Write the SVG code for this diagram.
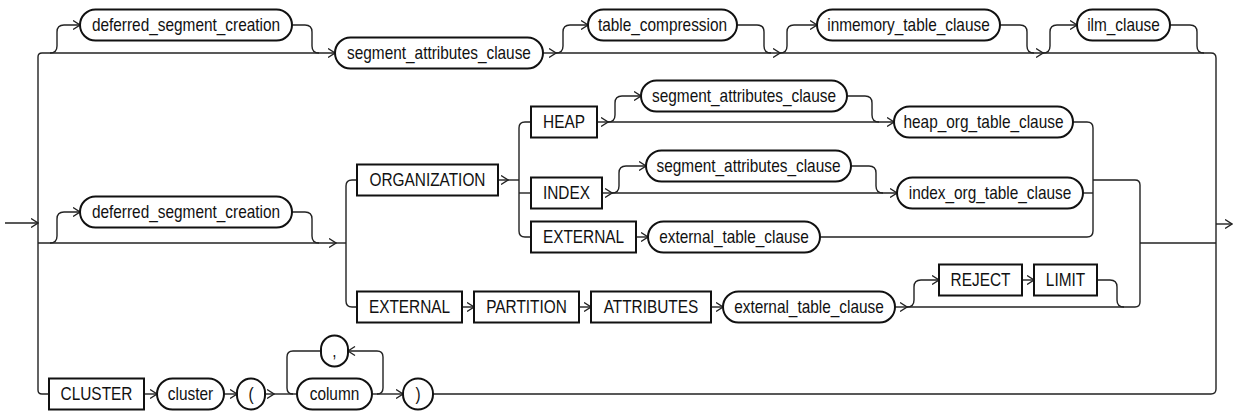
<svg xmlns="http://www.w3.org/2000/svg" width="1233" height="411" viewBox="0 0 1233 411">
<style>
.n rect{fill:#fff;stroke:#111;stroke-width:2}
.n text{font-family:"Liberation Sans",Arial,sans-serif;font-size:17.5px;fill:#111;text-anchor:middle;transform-box:fill-box;transform-origin:center;transform:scaleX(0.88)}
#conn path{fill:none;stroke:#222;stroke-width:1.4}
</style>
<defs>
<marker id="ah" viewBox="0 0 8 10" refX="7.5" refY="5" markerWidth="8" markerHeight="10" orient="auto" markerUnits="userSpaceOnUse">
<path d="M0.5,0.5 L7.5,5 L0.5,9.5" fill="none" stroke="#222" stroke-width="1.3"/>
</marker>
</defs>
<rect width="1233" height="411" fill="#fff"/>
<g id="conn">
<path d="M5,223 H38" marker-end="url(#ah)"/>
<path d="M1216,224 H1232" marker-end="url(#ah)"/>
<path d="M42,53 Q38,53 38,57 V390 Q38,394 42,394 H49"/>
<path d="M1204,53 H1211 Q1216,53 1216,58 V389 Q1216,394 1211,394 H433"/>
<path d="M42,53 H335" marker-end="url(#ah)"/>
<path d="M50,53 Q57,53 57,46 V32 Q57,25 64,25 H80" marker-end="url(#ah)"/>
<path d="M292,25 H305 Q312,25 312,32 V46 Q312,53 319,53"/>
<path d="M543,53 H556" marker-end="url(#ah)"/>
<path d="M556,53 H780" marker-end="url(#ah)"/>
<path d="M780,53 H1043" marker-end="url(#ah)"/>
<path d="M1043,53 H1204"/>
<path d="M556,53 Q563,53 563,46 V32 Q563,25 570,25 H588" marker-end="url(#ah)"/>
<path d="M737,25 H757 Q764,25 764,32 V46 Q764,53 771,53"/>
<path d="M780,53 Q787,53 787,46 V32 Q787,25 794,25 H817" marker-end="url(#ah)"/>
<path d="M1000,25 H1020 Q1027,25 1027,32 V46 Q1027,53 1034,53"/>
<path d="M1043,53 Q1050,53 1050,46 V32 Q1050,25 1057,25 H1077" marker-end="url(#ah)"/>
<path d="M1170,25 H1190 Q1197,25 1197,32 V46 Q1197,53 1204,53"/>
<path d="M38,243 H336" marker-end="url(#ah)"/>
<path d="M336,243 H346"/>
<path d="M50,243 Q57,243 57,236 V219 Q57,212 64,212 H80" marker-end="url(#ah)"/>
<path d="M292,212 H305 Q312,212 312,219 V236 Q312,243 319,243"/>
<path d="M357,180 H352 Q346,180 346,186 V301 Q346,307 352,307 H357"/>
<path d="M498,180 H508" marker-end="url(#ah)"/>
<path d="M508,180 H519"/>
<path d="M531,122 H525 Q519,122 519,128 V231 Q519,237 525,237 H531"/>
<path d="M519,193 H531"/>
<path d="M597,122 H608" marker-end="url(#ah)"/>
<path d="M608,122 H894" marker-end="url(#ah)"/>
<path d="M608,122 Q615,122 615,115 V103 Q615,96 622,96 H641" marker-end="url(#ah)"/>
<path d="M847,96 H865 Q872,96 872,103 V115 Q872,122 879,122"/>
<path d="M1073,122 H1087 Q1093,122 1093,128 V231 Q1093,237 1087,237 H820"/>
<path d="M602,193 H612" marker-end="url(#ah)"/>
<path d="M612,193 H897" marker-end="url(#ah)"/>
<path d="M612,193 Q619,193 619,186 V173 Q619,166 626,166 H646" marker-end="url(#ah)"/>
<path d="M851,166 H869 Q876,166 876,173 V186 Q876,193 883,193"/>
<path d="M1083,193 H1093"/>
<path d="M636,237 H648" marker-end="url(#ah)"/>
<path d="M1093,180 H1135 Q1140,180 1140,185 V302 Q1140,307 1135,307"/>
<path d="M1140,243 H1216"/>
<path d="M462,307 H474" marker-end="url(#ah)"/>
<path d="M579,307 H591" marker-end="url(#ah)"/>
<path d="M711,307 H723" marker-end="url(#ah)"/>
<path d="M895,307 H907" marker-end="url(#ah)"/>
<path d="M907,307 H1135"/>
<path d="M907,307 Q914,307 914,300 V287 Q914,280 921,280 H939" marker-end="url(#ah)"/>
<path d="M1022,280 H1034" marker-end="url(#ah)"/>
<path d="M1097,280 H1110 Q1117,280 1117,287 V300 Q1117,307 1124,307"/>
<path d="M144,394 H157" marker-end="url(#ah)"/>
<path d="M224,394 H237" marker-end="url(#ah)"/>
<path d="M265,394 H274" marker-end="url(#ah)"/>
<path d="M274,394 H297"/>
<path d="M372,394 H403" marker-end="url(#ah)"/>
<path d="M377,394 Q383,394 383,388 V357 Q383,351 377,351 H348" marker-end="url(#ah)"/>
<path d="M321,351 H293 Q287,351 287,357 V388 Q287,394 293,394"/>
</g>
<g id="n-dsc1" class="n"><rect x="80" y="9.5" width="212" height="31" rx="15.5"/><text x="186" y="31">deferred_segment_creation</text></g>
<g id="n-sac1" class="n"><rect x="335" y="37.5" width="208" height="31" rx="15.5"/><text x="439" y="59">segment_attributes_clause</text></g>
<g id="n-tc" class="n"><rect x="588" y="9.5" width="149" height="31" rx="15.5"/><text x="662.5" y="31">table_compression</text></g>
<g id="n-itc" class="n"><rect x="817" y="9.5" width="183" height="31" rx="15.5"/><text x="908.5" y="31">inmemory_table_clause</text></g>
<g id="n-ilm" class="n"><rect x="1077" y="9.5" width="93" height="31" rx="15.5"/><text x="1123.5" y="31">ilm_clause</text></g>
<g id="n-dsc2" class="n"><rect x="80" y="196.5" width="212" height="31" rx="15.5"/><text x="186" y="218">deferred_segment_creation</text></g>
<g id="n-org" class="n"><rect x="357" y="164.5" width="141" height="31"/><text x="427.5" y="186">ORGANIZATION</text></g>
<g id="n-heap" class="n"><rect x="531" y="106.5" width="66" height="31"/><text x="564" y="128">HEAP</text></g>
<g id="n-sac2" class="n"><rect x="641" y="80.5" width="206" height="31" rx="15.5"/><text x="744" y="102">segment_attributes_clause</text></g>
<g id="n-hotc" class="n"><rect x="894" y="106.5" width="179" height="31" rx="15.5"/><text x="983.5" y="128">heap_org_table_clause</text></g>
<g id="n-index" class="n"><rect x="531" y="177.5" width="71" height="31"/><text x="566.5" y="199">INDEX</text></g>
<g id="n-sac3" class="n"><rect x="646" y="150.5" width="205" height="31" rx="15.5"/><text x="748.5" y="172">segment_attributes_clause</text></g>
<g id="n-iotc" class="n"><rect x="897" y="177.5" width="186" height="31" rx="15.5"/><text x="990" y="199">index_org_table_clause</text></g>
<g id="n-ext1" class="n"><rect x="531" y="221.5" width="105" height="31"/><text x="583.5" y="243">EXTERNAL</text></g>
<g id="n-etc1" class="n"><rect x="648" y="221.5" width="172" height="31" rx="15.5"/><text x="734" y="243">external_table_clause</text></g>
<g id="n-ext2" class="n"><rect x="357" y="291.5" width="105" height="31"/><text x="409.5" y="313">EXTERNAL</text></g>
<g id="n-part" class="n"><rect x="474" y="291.5" width="105" height="31"/><text x="526.5" y="313">PARTITION</text></g>
<g id="n-attr" class="n"><rect x="591" y="291.5" width="120" height="31"/><text x="651" y="313">ATTRIBUTES</text></g>
<g id="n-etc2" class="n"><rect x="723" y="291.5" width="172" height="31" rx="15.5"/><text x="809" y="313">external_table_clause</text></g>
<g id="n-reject" class="n"><rect x="939" y="264.5" width="83" height="31"/><text x="980.5" y="286">REJECT</text></g>
<g id="n-limit" class="n"><rect x="1034" y="264.5" width="63" height="31"/><text x="1065.5" y="286">LIMIT</text></g>
<g id="n-clusterkw" class="n"><rect x="49" y="378.5" width="95" height="31"/><text x="96.5" y="400">CLUSTER</text></g>
<g id="n-cluster" class="n"><rect x="157" y="378.5" width="67" height="31" rx="15.5"/><text x="190.5" y="400">cluster</text></g>
<g id="n-lp" class="n"><rect x="237" y="378.5" width="28" height="31" rx="14"/><text x="251" y="400">(</text></g>
<g id="n-column" class="n"><rect x="297" y="378.5" width="75" height="31" rx="15.5"/><text x="334.5" y="400">column</text></g>
<g id="n-comma" class="n"><rect x="321" y="335.5" width="27" height="31" rx="13.5"/><text x="334.5" y="357">,</text></g>
<g id="n-rp" class="n"><rect x="403" y="378.5" width="30" height="31" rx="15"/><text x="418" y="400">)</text></g>
</svg>
